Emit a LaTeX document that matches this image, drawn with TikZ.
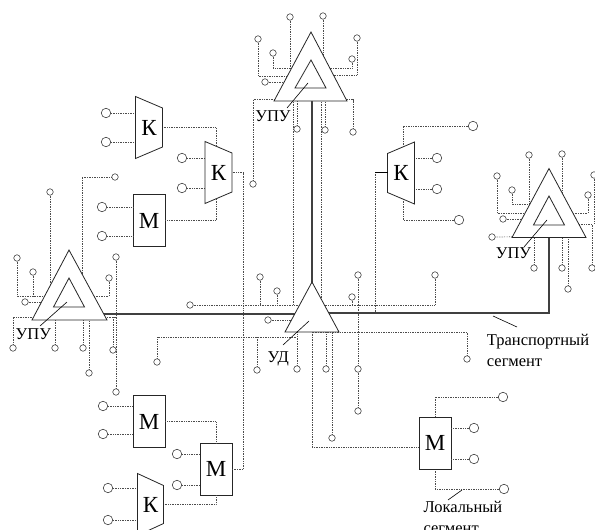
\documentclass[tikz,border=0pt]{standalone}
\usepackage{fontspec}
\setmainfont{Liberation Serif}

\begin{document}
\begin{tikzpicture}[x=1pt,y=-1pt,
    term/.style={circle,draw=black!75,fill=white,line width=0.6pt,inner sep=0pt,minimum size=9.5pt},
    sterm/.style={term,minimum size=6.5pt},
    loc/.style={densely dotted,line width=0.7pt,black!70},
    trans/.style={line width=1.3pt,black!75},
    dev/.style={draw=black!85,fill=white,line width=0.8pt},
    big/.style={font=\fontsize{23}{26}\selectfont},
    mbox/.style={dev,big,inner sep=0pt,minimum width=32pt,minimum height=52pt},
    lbl/.style={font=\fontsize{16.5}{21}\selectfont,inner sep=0pt}]
        \useasboundingbox (0,0) rectangle (595,530);

        \node[sterm] (a1) at (290,17) {};
        \node[sterm] (a2) at (323,16) {};
        \node[sterm] (a3) at (258,39) {};
        \node[sterm] (a4) at (273,53) {};
        \node[sterm] (a5) at (265,82) {};
        \node[sterm] (a6) at (357,38) {};
        \node[sterm] (a7) at (352,59) {};
        \node[sterm] (a8) at (253,184) {};
        \node[sterm] (a9) at (297,129) {};
        \node[sterm] (a10) at (325,130) {};
        \node[sterm] (a11) at (353,132) {};
        \draw[loc] (a1) -- (290,80);
        \draw[loc] (a2) -- (323,70);
        \draw[loc] (a3) |- (311,76);
        \draw[loc] (a4) |- (311,68);
        \draw[loc] (a5) -- (311,82);
        \draw[loc] (a6) |- (311,75);
        \draw[loc] (a7) |- (311,68);
        \draw[loc] (a8) |- (300,99.5);
        \draw[loc] (a9) -- (297,95);
        \draw[loc] (a10) -- (325,95);
        \draw[loc] (a11) |- (320,99.5);
        \draw[loc] (293,95) -- (293,305);
        \draw[loc] (321,95) -- (321,305);

        \node[sterm] (b1) at (50,192) {};
        \node[sterm] (b2) at (115,177) {};
        \node[sterm] (b3) at (17,258) {};
        \node[sterm] (b4) at (33,272) {};
        \node[sterm] (b5) at (25,302) {};
        \node[sterm] (b6) at (109,278) {};
        \node[sterm] (b7) at (116,257) {};
        \node[sterm] (b8) at (116,392) {};
        \node[sterm] (b9) at (13,348) {};
        \node[sterm] (b10) at (55,348) {};
        \node[sterm] (b11) at (83,348) {};
        \node[sterm] (b12) at (89,373) {};
        \node[sterm] (b13) at (113,350) {};
        \draw[loc] (b1) -- (50,300);
        \draw[loc] (b2) -| (82,300);
        \draw[loc] (b3) |- (69,296);
        \draw[loc] (b4) -- (33,296);
        \draw[loc] (b5) -- (69,302);
        \draw[loc] (b6) |- (69,296);
        \draw[loc] (b7) -- (b8);
        \draw[loc] (116,317) -- (90,317);
        \draw[loc] (b9) |- (60,317);
        \draw[loc] (b10) -- (55,312);
        \draw[loc] (b11) -- (83,312);
        \draw[loc] (b12) -- (89,312);
        \draw[loc] (b13) -- (113,317);

        \node[sterm] (c1) at (529,155) {};
        \node[sterm] (c2) at (562,154) {};
        \node[sterm] (c3) at (497,176) {};
        \node[sterm] (c4) at (512,190) {};
        \node[sterm] (c5) at (503,219) {};
        \node[sterm] (c6) at (588,195) {};
        \node[sterm] (c7) at (594,175) {};
        \node[sterm] (c8) at (492,237) {};
        \node[sterm] (c9) at (592,268) {};
        \node[sterm] (c10) at (534,268) {};
        \node[sterm] (c11) at (562,268) {};
        \node[sterm] (c12) at (568,289) {};
        \draw[loc] (c1) -- (529,215);
        \draw[loc] (c2) -- (562,215);
        \draw[loc] (c3) |- (549,213);
        \draw[loc] (c4) |- (549,204);
        \draw[loc] (c5) -- (549,219);
        \draw[loc] (c6) |- (549,213);
        \draw[loc] (c7) -- (594,224);
        \draw[loc] (c8) -- (549,236.5);
        \draw[loc] (c9) |- (549,224);
        \draw[loc] (c10) -- (534,230);
        \draw[loc] (c11) -- (562,230);
        \draw[loc] (c12) -- (568,230);

        \node[term] (d1) at (473,126) {};
        \node[term] (d2) at (437,158) {};
        \node[term] (d3) at (437,189) {};
        \node[term] (d4) at (459,220) {};
        \draw[loc] (d1) -| (403,150);
        \draw[loc] (d2) -- (414,158);
        \draw[loc] (d3) -- (414,189);
        \draw[loc] (d4) -| (403,197);
        \draw[loc] (375,172) -- (375,313);

        \node[mbox] (m1) at (149,220.5) {М};
        \node[term] (e1) at (106,113) {};
        \node[term] (e2) at (106,142) {};
        \node[term] (e3) at (182,158) {};
        \node[term] (e4) at (182,188) {};
        \node[term] (e5) at (102,207) {};
        \node[term] (e6) at (102,236) {};
        \draw[loc] (e1) -- (136,113);
        \draw[loc] (e2) -- (136,142);
        \draw[loc] (e3) -- (205,158);
        \draw[loc] (e4) -- (205,188);
        \draw[loc] (e5) -- (e5 -| m1.west);
        \draw[loc] (e6) -- (e6 -| m1.west);
        \draw[loc] (162,127.5) -| (216,147);
        \draw[loc] (m1.east) -| (216,198);

        \node[mbox] (m2) at (149,421.7) {М};
        \node[mbox] (m3) at (216,469) {М};
        \node[term] (f1) at (103,406) {};
        \node[term] (f2) at (103,434) {};
        \node[term] (f3) at (177,454) {};
        \node[term] (f4) at (177,485) {};
        \node[term] (f5) at (108,488) {};
        \node[term] (f6) at (108,520) {};
        \draw[loc] (f1) -- (f1 -| m2.west);
        \draw[loc] (f2) -- (f2 -| m2.west);
        \draw[loc] (f3) -- (f3 -| m3.west);
        \draw[loc] (f4) -- (f4 -| m3.west);
        \draw[loc] (f5) -- (137.5,488);
        \draw[loc] (f6) -- (137.5,520);
        \draw[loc] (m2.east) -| (m3.north);
        \draw[loc] (163,504) -| (m3.south);
        \draw[loc] (231,172.5) -| (243.3,469) -- (m3.east);

        \node[mbox] (m4) at (435,443.3) {М};
        \node[sterm] (g1) at (190,305) {};
        \node[sterm] (g2) at (260,277) {};
        \node[sterm] (g3) at (277,291) {};
        \node[sterm] (g4) at (268,320) {};
        \node[sterm] (g5) at (157,362) {};
        \node[sterm] (g6) at (257,370) {};
        \node[sterm] (g7) at (297,369) {};
        \node[sterm] (g8) at (326,369) {};
        \node[sterm] (g9) at (332,438) {};
        \node[sterm] (g10) at (358,275) {};
        \node[sterm] (g11) at (352,297) {};
        \node[sterm] (g12) at (435,275) {};
        \node[sterm] (g13) at (358,411) {};
        \node[sterm] (g14) at (358,369) {};
        \node[sterm] (g15) at (467,359) {};
        \draw[loc] (g1) -- (312,305);
        \draw[loc] (g2) -- (260,305);
        \draw[loc] (g3) -- (277,305);
        \draw[loc] (g4) -- (312,320);
        \draw[loc] (g5) |- (297,337);
        \draw[loc] (g6) -- (257,337);
        \draw[loc] (g7) -- (297,325);
        \draw[loc] (g8) -- (326,325);
        \draw[loc] (g9) -- (332,325);
        \draw[loc] (g10) -- (358,305);
        \draw[loc] (g11) -- (352,305);
        \draw[loc] (g12) |- (312,305);
        \draw[loc] (g13) -- (g14);
        \draw[loc] (g14) -- (358,305);
        \draw[loc] (g15) |- (312,332);
        \draw[loc] (312,325) |- ([yshift=-4pt]m4.west);

        \node[term] (h1) at (503,397) {};
        \node[term] (h2) at (474,428) {};
        \node[term] (h3) at (474,459) {};
        \node[term] (h4) at (504,489) {};
        \draw[loc] (h1) -| (m4.north);
        \draw[loc] (h2) -- (h2 -| m4.east);
        \draw[loc] (h3) -- (h3 -| m4.east);
        \draw[loc] (h4) -| (m4.south);

        \draw[trans] (312,95) -- (312,300);
        \draw[trans] (80,314) -- (305,314);
        \draw[trans] (320,313) -- (549,313) -- (549,225);

        \draw[dev] (135.5,96.5) -- ++(27,11.5) -- ++(0,39) -- ++(-27,11.5) -- cycle;
        \node[big] (k1) at (149,127.5) {К};
        \draw[dev] (205,141.5) -- ++(27,11.5) -- ++(0,39) -- ++(-27,11.5) -- cycle;
        \node[big] (k2) at (218.5,172.5) {К};
        \draw[dev] (414.5,142) -- ++(-27,11.5) -- ++(0,39) -- ++(27,11.5) -- cycle;
        \node[big] (k3) at (401,173) {К};
        \draw[line width=0.8pt] (387.5,172) -- (375,172);
        \draw[dev] (137.5,473.5) -- ++(26,12) -- ++(0,38) -- ++(-26,12) -- cycle;
        \node[big] (k4) at (150.5,504.5) {К};

        \draw[dev] (311,32) -- (347,101) -- (274,101) -- cycle;
        \draw[dev] (311,60) -- (326,88) -- (295,88) -- cycle;
        \draw[line width=0.6pt] (308,83) -- (287,108);
        \node[lbl,anchor=base] (l1) at (273,121.5) {УПУ};

        \draw[dev] (549,168.5) -- (586,237.5) -- (512,237.5) -- cycle;
        \draw[dev] (549,196) -- (564.5,225) -- (533.5,225) -- cycle;
        \draw[line width=0.6pt] (547,220) -- (524,247);
        \node[lbl,anchor=base] (l2) at (513.5,258.3) {УПУ};

        \draw[dev] (69,250) -- (107,320) -- (32,320) -- cycle;
        \draw[dev] (69,278) -- (84.5,307) -- (53.5,307) -- cycle;
        \draw[line width=0.6pt] (67,302) -- (40,326);
        \node[lbl,anchor=base] (l3) at (33.3,339.3) {УПУ};

        \draw[dev] (312,282) -- (339,332) -- (285,332) -- cycle;
        \draw[line width=0.6pt] (309,321) -- (283,345);
        \node[lbl,anchor=base] (l4) at (278.3,362.5) {УД};

        \draw[line width=0.6pt] (493,316) -- (517,327);
        \node[lbl,anchor=base west] (tr1) at (486.7,345) {Транспортный};
        \node[lbl,anchor=base west] (tr2) at (486.7,366) {сегмент};
        \draw[line width=0.6pt] (448,500) -- (462,490);
        \node[lbl,anchor=base west] (lo1) at (423.3,512.7) {Локальный};
        \node[lbl,anchor=base west] (lo2) at (423.3,533.5) {сегмент};
    \end{tikzpicture}
\end{document}
